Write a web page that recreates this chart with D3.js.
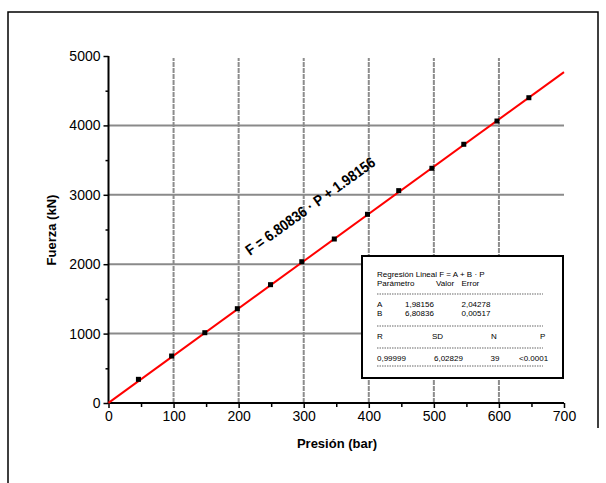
<!DOCTYPE html>
<html><head><meta charset="utf-8">
<script src="https://cdn.jsdelivr.net/npm/d3@7"></script>
<style>body{margin:0;background:#fff}svg{display:block}text{font-family:"Liberation Sans",Arial,sans-serif}</style>
</head><body><svg id="c" width="606" height="483"></svg>
<script>
const pressure = [46, 97, 148, 198, 249, 297, 347, 398, 446, 497, 546, 597, 646];
const force = [341, 677, 1013, 1359, 1705, 2036, 2363, 2719, 3060, 3382, 3728, 4063, 4399];
const xTicks = [0, 100, 200, 300, 400, 500, 600, 700];
const yTicks = [0, 1000, 2000, 3000, 4000, 5000];
const fitA = 1.98156, fitB = 6.80836;
const tableHeader = ["Regresión Lineal F = A + B · P"];
const paramRow = ["Parámetro", "Valor", "Error"];
const paramA = ["A", "1,98156", "2,04278"];
const paramB = ["B", "6,80836", "0,00517"];
const statHead = ["R", "SD", "N", "P"];
const statVals = ["0,99999", "6,02829", "39", "<0.0001"];

const svg = d3.select("#c");
const x = d3.scaleLinear().domain([0, 700]).range([108.5, 564]);
const y = d3.scaleLinear().domain([0, 5000]).range([403, 56]);

// outer frame
svg.append("path").attr("d", "M8,483 L8,12 L598,12 L598,428").attr("fill", "none").attr("stroke", "#000").attr("stroke-width", 1.5);

// grid
svg.append("g").selectAll("line").data(xTicks.filter(d => d > 0 && d < 700)).join("line")
  .attr("x1", d => x(d)).attr("x2", d => x(d)).attr("y1", y(0)).attr("y2", y(4970))
  .attr("stroke", "#8c8c8c").attr("stroke-width", 2).attr("stroke-dasharray", "5,1");
svg.append("g").selectAll("line").data(yTicks.filter(d => d > 0 && d < 5000)).join("line")
  .attr("x1", x(0)).attr("x2", x(700)).attr("y1", d => y(d)).attr("y2", d => y(d))
  .attr("stroke", "#8a8a8a").attr("stroke-width", 2);

// axes
const xAxis = svg.append("g").attr("transform", `translate(0,${y(0)})`)
  .call(d3.axisBottom(x).tickValues(xTicks).tickSize(5).tickPadding(3).tickFormat(d3.format("d")));
svg.append("g").attr("transform", `translate(0,${y(0)})`)
  .call(d3.axisBottom(x).tickValues(d3.range(50, 700, 100)).tickSize(4).tickFormat(""))
  .call(g => g.select(".domain").remove());
const yAxis = svg.append("g").attr("transform", `translate(${x(0)},0)`)
  .call(d3.axisLeft(y).tickValues(yTicks).tickSize(5).tickPadding(3).tickFormat(d3.format("d")));
svg.append("g").attr("transform", `translate(${x(0)},0)`)
  .call(d3.axisLeft(y).tickValues(d3.range(500, 5000, 1000)).tickSize(3).tickFormat(""))
  .call(g => g.select(".domain").remove());
svg.selectAll(".domain").attr("stroke-width", 2);
xAxis.select(".domain").attr("d", `M${x(0)},0H${x(700)}`);
yAxis.select(".domain").attr("d", `M0,${y(0)}V${y(5000)}`);
svg.selectAll(".tick line").attr("stroke-width", 1.5);
svg.selectAll(".tick text").attr("font-size", 14).attr("fill", "#000").attr("font-family", "Liberation Sans, Arial, sans-serif");

// labels
svg.append("text").attr("x", 337).attr("y", 448).attr("text-anchor", "middle")
  .attr("font-size", 13).attr("font-weight", "bold").text("Presión (bar)");
svg.append("text").attr("transform", "translate(56,230) rotate(-90)").attr("text-anchor", "middle")
  .attr("font-size", 13).attr("font-weight", "bold").text("Fuerza (kN)");

// fit line
svg.append("line").attr("x1", x(0)).attr("y1", y(fitA)).attr("x2", x(700)).attr("y2", y(fitA + fitB * 700))
  .attr("stroke", "#ff0000").attr("stroke-width", 2);

// points
svg.append("g").selectAll("rect").data(pressure.map((p, i) => [p, force[i]])).join("rect")
  .attr("x", d => x(d[0]) - 2.5).attr("y", d => y(d[1]) - 2.5).attr("width", 5).attr("height", 5).attr("fill", "#000");

// equation
svg.append("text").attr("transform", "translate(250,256) rotate(-35.8)")
  .attr("font-size", 15).attr("font-weight", "bold").attr("textLength", 156).attr("lengthAdjust", "spacingAndGlyphs")
  .text(`F = ${fitB} · P + ${fitA}`);

// table box
const tb = svg.append("g");
tb.append("rect").attr("x", 362).attr("y", 256).attr("width", 201).attr("height", 122)
  .attr("fill", "#fff").attr("stroke", "#000").attr("stroke-width", 2);
const t = (s, xx, yy, anchor) => tb.append("text").attr("x", xx).attr("y", yy).attr("font-size", 8)
  .attr("text-anchor", anchor || "start").text(s);
const dash = yy => tb.append("line").attr("x1", 377).attr("x2", 543).attr("y1", yy).attr("y2", yy)
  .attr("stroke", "#000").attr("stroke-width", 0.6).attr("stroke-dasharray", "1.5,1");
t(tableHeader[0], 377, 277);
t(paramRow[0], 377, 285.5); t(paramRow[1], 436, 285.5); t(paramRow[2], 461.5, 285.5);
dash(294);
t(paramA[0], 377, 306.5); t(paramA[1], 405, 306.5); t(paramA[2], 461.5, 306.5);
t(paramB[0], 377, 315.5); t(paramB[1], 405, 315.5); t(paramB[2], 461.5, 315.5);
dash(326);
t(statHead[0], 377, 339); t(statHead[1], 432, 339); t(statHead[2], 491, 339); t(statHead[3], 540, 339);
dash(348);
t(statVals[0], 377, 361); t(statVals[1], 434, 361); t(statVals[2], 490.5, 361); t(statVals[3], 519, 361);
dash(366);
</script></body></html>
